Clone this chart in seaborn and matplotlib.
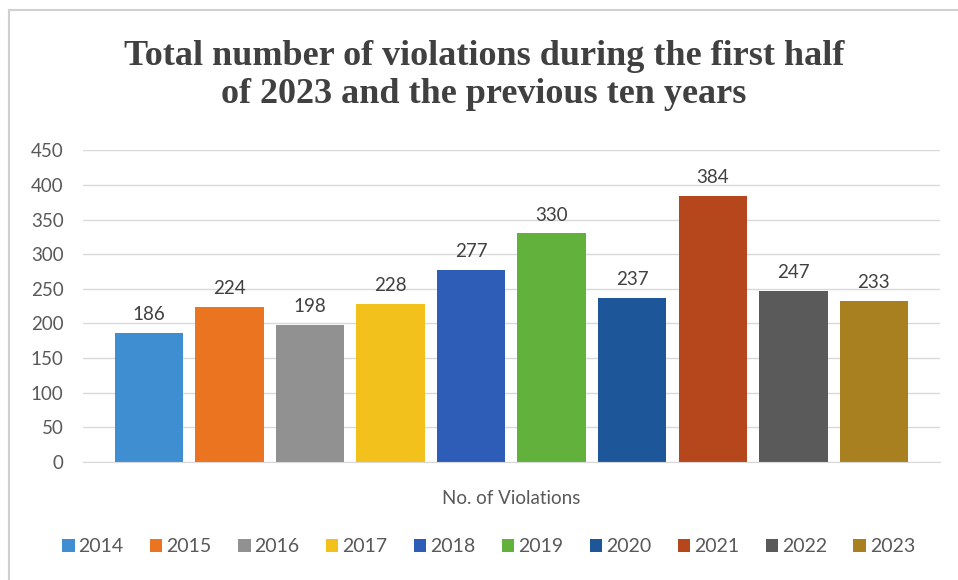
import matplotlib
matplotlib.use("Agg")
import matplotlib.pyplot as plt
import matplotlib.patches as mpatches
import seaborn as sns
import pandas as pd

# Datos del grafico
anios = ["2014", "2015", "2016", "2017", "2018", "2019", "2020", "2021", "2022", "2023"]
violaciones = [186, 224, 198, 228, 277, 330, 237, 384, 247, 233]
colores = ["#3F8ED2", "#EA7420", "#919191", "#F2C11C", "#2D5DB6",
           "#62B13C", "#1E5799", "#B6471C", "#5A5A5A", "#A98020"]
categoria = "No. of Violations"

df = pd.DataFrame({"anio": anios, "total": violaciones, "cat": categoria})

sns.set_style("white")
plt.rcParams["font.family"] = ["Lato", "DejaVu Sans"]

fig = plt.figure(figsize=(9.58, 5.80), dpi=100)
ax = fig.add_axes([0.0866, 0.2034, 0.8945, 0.5376])

sns.barplot(data=df, x="cat", y="total", hue="anio", palette=colores,
            width=0.94, gap=0.15, ax=ax, legend=True, saturation=1,
            edgecolor="none")

# Etiquetas de datos
for cont in ax.containers:
    ax.bar_label(cont, padding=7, fontsize=13.5, color="#404040")

ax.set_ylim(0, 450)
ax.set_yticks(range(0, 451, 50))
ax.set_xlim(-0.5, 0.5)
ax.yaxis.grid(True, color="#D9D9D9", linewidth=1)
ax.set_axisbelow(True)
for s in ["top", "right", "left"]:
    ax.spines[s].set_visible(False)
ax.spines["bottom"].set_color("#D9D9D9")
ax.tick_params(axis="y", labelsize=13.5, labelcolor="#595959", length=0, pad=14)
ax.set_xticks([])
ax.set_ylabel("")
ax.set_xlabel(categoria, fontsize=13.5, color="#595959", labelpad=20)

# Titulo
fig.text(0.505, 0.87, "Total number of violations during the first half\nof 2023 and the previous ten years",
         ha="center", va="center", fontsize=26, fontweight="bold",
         family="Liberation Serif", color="#404040", linespacing=1.2)

# Leyenda
handles, labels = ax.get_legend_handles_labels()
ax.legend(handles, labels, ncol=10, loc="center", bbox_to_anchor=(0.51, 0.057),
          bbox_transform=fig.transFigure, frameon=False, fontsize=14,
          labelcolor="#595959", handlelength=0.65, handleheight=0.65,
          handletextpad=0.2, columnspacing=1.35)

# Marco del grafico
fig.patches.append(mpatches.Rectangle((0.009, -0.01), 1.0, 0.993, transform=fig.transFigure,
                                      fill=False, edgecolor="#D0D0D0", linewidth=1.5))

fig.savefig("out.png", dpi=100)
plt.close()
